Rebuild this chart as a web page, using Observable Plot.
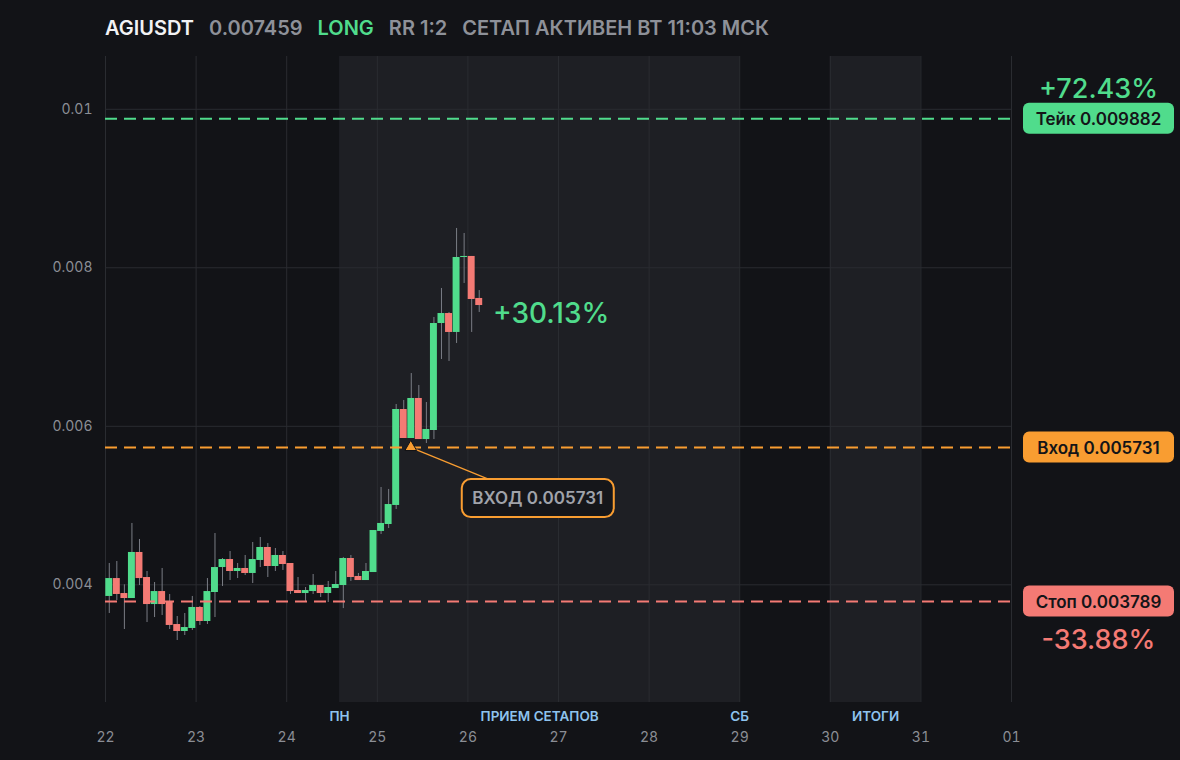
<!DOCTYPE html>
<html><head><meta charset="utf-8">
<script src="https://cdn.jsdelivr.net/npm/d3@7"></script>
<script src="https://cdn.jsdelivr.net/npm/@observablehq/plot@0.6"></script>
<style>
html,body{margin:0;padding:0;background:#121317;}
#wrap{position:relative;width:1180px;height:760px;font-family:Inter,"Noto Sans",sans-serif;overflow:hidden;}
#title{position:absolute;left:105px;top:14px;height:28px;line-height:28px;font-size:20px;font-weight:600;white-space:nowrap;z-index:2;}
#title span{margin-right:15px;}
</style></head>
<body><div id="wrap"><div id="title"></div></div>
<script>
// ---- data ----
const symbol = "AGIUSDT";
const lastPrice = "0.007459";
const side = "LONG";
const rr = "RR 1:2";
const status = "СЕТАП АКТИВЕН ВТ 11:03 МСК";

const firstCandle = "2025-03-22T00:00:00Z";
const candleHours = 2;
const opens  = [.003853,.004079,.003890,.003827,.004408,.004092,.003751,.003915,.003789,.003499,
                .003411,.003449,.003714,.003537,.003903,.004218,.004319,.004168,.004206,.004143,
                .004307,.004471,.004231,.004370,.004269,.003928,.003890,.003915,.003991,.003890,
                .003953,.003991,.004332,.004105,.004054,.004155,.004673,.004761,.005001,.006212,
                .005846,.006351,.005833,.005947,.007297,.007423,.007184,.008130,.008143,.007613];
const highs  = [.004269,.004294,.004000,.004774,.004572,.004168,.004029,.004206,.003878,.003600,
                .003638,.003853,.003726,.004079,.004647,.004332,.004420,.004269,.004370,.004534,
                .004597,.004521,.004458,.004420,.004269,.004092,.003966,.004130,.003991,.004042,
                .004168,.004345,.004370,.004143,.004269,.004685,.005228,.005203,.006275,.006326,
                .006666,.006515,.006300,.007373,.007739,.007436,.008496,.008433,.008143,.007713];
const lows   = [.003638,.003802,.003436,.003827,.003991,.003524,.003587,.003613,.003436,.003297,
                .003360,.003424,.003487,.003499,.003587,.003979,.004054,.004079,.004117,.004016,
                .004218,.004092,.004168,.004181,.003878,.003890,.003789,.003878,.003840,.003777,
                .003953,.003700,.004042,.004054,.004054,.004155,.004635,.004710,.004950,.005846,
                .005846,.005833,.005783,.005833,.006843,.006818,.007045,.007802,.007184,.007436];
const closes = [.004079,.003878,.003827,.004408,.004079,.003751,.003915,.003751,.003487,.003411,
                .003461,.003714,.003537,.003915,.004218,.004319,.004168,.004206,.004143,.004319,
                .004471,.004231,.004370,.004256,.003915,.003890,.003928,.003991,.003890,.003966,
                .004004,.004332,.004092,.004054,.004168,.004685,.004774,.005013,.006212,.005846,
                .006351,.005833,.005960,.007297,.007423,.007184,.008130,.008143,.007600,.007524];

const levelNames  = ["Тейк", "Вход", "Стоп"];
const levelValues = [0.009882, 0.005731, 0.003789];
const levelText   = ["Тейк 0.009882", "Вход 0.005731", "Стоп 0.003789"];
const takePct = "+72.43%";
const stopPct = "-33.88%";
const currentPct = "+30.13%";
const currentValue = 0.007459;
const entryCandleIndex = 40;
const entryLabel = "ВХОД 0.005731";

const dayTicks = ["2025-03-22","2025-03-23","2025-03-24","2025-03-25","2025-03-26","2025-03-27",
                  "2025-03-28","2025-03-29","2025-03-30","2025-03-31","2025-04-01"];
const yTicks = [0.004, 0.006, 0.008, 0.01];
const yTickLabels = ["0.004", "0.006", "0.008", "0.01"];
const bandStarts = ["2025-03-24T14:00:00Z", "2025-03-30T00:00:00Z"];
const bandEnds   = ["2025-03-29T00:00:00Z", "2025-03-31T00:00:00Z"];
const eventNames = ["ПН", "ПРИЕМ СЕТАПОВ", "СБ", "ИТОГИ"];
const eventTimes = ["2025-03-24T14:00:00Z", "2025-03-26T19:00:00Z", "2025-03-29T00:00:00Z", "2025-03-30T12:00:00Z"];

// ---- styles ----
const GREEN = "#50dc8c", RED = "#f47a74", ORANGE = "#f99d31";
const levelColors = [GREEN, ORANGE, RED];
const BG = "#121317", SHADE = "#1e1f24", GRID = "#2a2c31";

// ---- build ----
const H = 3600e3;
const t0 = new Date(firstCandle).getTime();
const candles = opens.map((o, i) => ({
  start: new Date(t0 + i*candleHours*H),
  end: new Date(t0 + (i+1)*candleHours*H),
  mid: new Date(t0 + (i+0.5)*candleHours*H),
  open: o, high: highs[i], low: lows[i], close: closes[i],
  up: closes[i] >= o
}));
const days = dayTicks.map(d => new Date(d + "T00:00:00Z"));
const bands = bandStarts.map((s, i) => ({x1: new Date(s), x2: new Date(bandEnds[i])}));
const events = eventNames.map((n, i) => ({name: n, x: new Date(eventTimes[i])}));
const levels = levelValues.map((v, i) => ({name: levelNames[i], value: v, color: levelColors[i], text: levelText[i]}));
const entry = candles[entryCandleIndex];

document.getElementById("title").innerHTML =
  `<span style="color:#f1f2f4">${symbol}</span><span style="color:#8e9199">${lastPrice}</span>` +
  `<span style="color:${GREEN}">${side}</span><span style="color:#8e9199">${rr}</span>` +
  `<span style="color:#8e9199">${status}</span>`;

const W = 1180, HT = 760, mL = 105, mR = 169, mT = 56, mB = 58;

const plot = Plot.plot({
  width: W, height: HT,
  marginLeft: mL, marginRight: mR, marginTop: mT, marginBottom: mB,
  style: {background: BG, color: "#8b8e95", fontFamily: "Inter, 'Noto Sans', sans-serif", fontSize: "14px", overflow: "visible"},
  x: {type: "utc", domain: [days[0], days[days.length-1]]},
  y: {domain: [0.002515, 0.010666]},
  marks: [
    Plot.rect(bands, {x1: "x1", x2: "x2", fill: SHADE}),
    Plot.gridX(days, {stroke: GRID, strokeOpacity: 1}),
    Plot.gridY(yTicks, {stroke: GRID, strokeOpacity: 1}),
    Plot.ruleX(candles, {x: "mid", y1: "low", y2: "high", stroke: "#7a7d85", strokeWidth: 1}),
    Plot.rect(candles, {x1: "start", x2: "end", y1: "open", y2: "close", fill: d => d.up ? GREEN : RED, insetLeft: 0.3, insetRight: 0.3}),
    Plot.ruleY(levels, {y: "value", stroke: "color", strokeWidth: 2, strokeDasharray: "12,7"}),
    Plot.text([currentPct], {x: candles[candles.length-1].end, y: currentValue, text: d => d, textAnchor: "start", dx: 10, dy: 3, fill: GREEN, fontSize: 28, fontWeight: 500}),
    Plot.text(events, {x: "x", text: "name", frameAnchor: "bottom", dy: 18, fill: "#8ec3ee", fontSize: 13.5, fontWeight: 600}),
    Plot.axisY(yTicks, {tickSize: 0, tickPadding: 13, tickFormat: (d, i) => yTickLabels[i], fontSize: 14, fill: "#8b8e95"}),
    Plot.axisX(days, {tickSize: 0, tickPadding: 30, tickFormat: d3.utcFormat("%d"), fontSize: 14, fill: "#8b8e95"})
  ]
});
document.getElementById("wrap").appendChild(plot);

// overlay using the plot's own scales
const sx = plot.scale("x"), sy = plot.scale("y");
const svg = d3.select(plot);
const g = svg.append("g").attr("font-family", "Inter, 'Noto Sans', sans-serif");

// entry annotation
const ax = sx.apply(entry.mid), ay = sy.apply(levelValues[1]);
g.append("line").attr("x1", ax + 4).attr("y1", ay + 2).attr("x2", ax + 80).attr("y2", ay + 33)
  .attr("stroke", ORANGE).attr("stroke-width", 1.2);
g.append("path").attr("d", d3.symbol(d3.symbolTriangle, 60)()).attr("transform", `translate(${ax},${ay})`)
  .attr("fill", ORANGE).attr("stroke", BG).attr("stroke-width", 1);
g.append("rect").attr("x", ax + 51).attr("y", ay + 32).attr("width", 152).attr("height", 38).attr("rx", 9)
  .attr("fill", "#15161a").attr("stroke", ORANGE).attr("stroke-width", 2);
g.append("text").attr("x", ax + 127).attr("y", ay + 51).attr("text-anchor", "middle").attr("dominant-baseline", "central")
  .attr("fill", "#a0a3aa").attr("font-size", 17).attr("font-weight", 600).text(entryLabel);

// right-side level tags
const right = W - mR;
levels.forEach(l => {
  const y = sy.apply(l.value);
  g.append("rect").attr("x", right + 12).attr("y", y - 15.5).attr("width", 151).attr("height", 31).attr("rx", 6).attr("fill", l.color);
  g.append("text").attr("x", right + 87.5).attr("y", y + 1).attr("text-anchor", "middle").attr("dominant-baseline", "central")
    .attr("fill", "#141518").attr("font-size", 17).attr("font-weight", 600).text(l.text);
});
g.append("text").attr("x", right + 87.5).attr("y", sy.apply(levelValues[0]) - 30).attr("text-anchor", "middle").attr("dominant-baseline", "central")
  .attr("fill", GREEN).attr("font-size", 27).attr("font-weight", 500).text(takePct);
g.append("text").attr("x", right + 87.5).attr("y", sy.apply(levelValues[2]) + 38).attr("text-anchor", "middle").attr("dominant-baseline", "central")
  .attr("fill", RED).attr("font-size", 27).attr("font-weight", 500).text(stopPct);
</script></body></html>
